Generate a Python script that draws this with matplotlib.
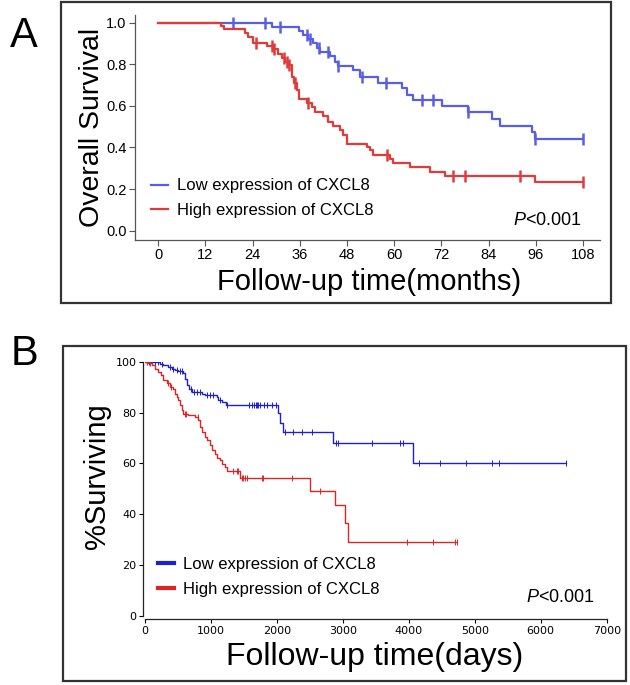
import numpy as np
import matplotlib
matplotlib.use("Agg")
import matplotlib.pyplot as plt
from matplotlib.lines import Line2D
from matplotlib.patches import Rectangle
from matplotlib.ticker import FormatStrFormatter

plt.rcParams['font.family'] = ['Liberation Sans', 'DejaVu Sans']
plt.rcParams['mathtext.fontset'] = 'custom'
plt.rcParams['mathtext.it'] = 'Liberation Sans:italic'
plt.rcParams['mathtext.rm'] = 'Liberation Sans'

# ---- panel A data (months, survival fraction) ----
low_a_t = [0, 28.8, 35.9, 36.9, 38.1, 39.4, 40.3, 41.1, 43.7, 44.9, 45.8, 49.6, 51.3,
           55.9, 61.9, 63.2, 64.8, 72.1, 78.8, 84.8, 86.9, 94.9, 95.8, 108]
low_a_s = [1.0, 0.981, 0.962, 0.941, 0.920, 0.901, 0.880, 0.861, 0.840, 0.813, 0.792, 0.773, 0.738,
           0.712, 0.685, 0.652, 0.628, 0.600, 0.572, 0.536, 0.503, 0.476, 0.44, 0.44]
low_a_cens = [18.9, 27.1, 30.9, 37.7, 38.6, 40.9, 43.1, 45.8, 51.7, 57.9, 67.0, 69.9, 78.8, 95.8, 108]

high_a_t = [0, 16.0, 16.8, 22.0, 22.9, 24.2, 27.6, 29.2, 30.5, 31.4, 32.2, 33.1, 33.9, 34.5,
            35.2, 35.9, 37.7, 39.0, 39.8, 42.0, 43.2, 44.5, 46.2, 47.0, 47.9, 53.0, 53.8, 54.7,
            58.9, 59.8, 64.0, 69.1, 72.9, 95.8, 108]
high_a_s = [1.0, 0.984, 0.968, 0.949, 0.933, 0.904, 0.888, 0.872, 0.850, 0.829, 0.813, 0.797, 0.740, 0.709,
            0.676, 0.632, 0.612, 0.593, 0.572, 0.551, 0.524, 0.503, 0.484, 0.460, 0.417, 0.404, 0.388, 0.364,
            0.345, 0.324, 0.305, 0.284, 0.263, 0.236, 0.236]
high_a_cens = [24.8, 28.8, 29.5, 32.0, 32.6, 33.2, 34.8, 38.1, 58.1, 75.0, 78.0, 92.0, 108]

# ---- panel B data (days, % surviving) ----
low_b_t = [0, 227, 278, 354, 404, 455, 505, 581, 607, 632, 672, 708, 860, 910, 1087, 1112,
           1163, 1228, 2022, 2047, 2088, 2846, 4068, 6384]
low_b_s = [100, 99.2, 98.6, 97.9, 97.2, 96.6, 96.2, 95.7, 93.3, 90.7, 89.1, 88.1, 87.4, 86.8, 86.1, 84.8,
           84.2, 82.9, 79.7, 76.0, 72.5, 67.9, 60.0, 60.0]
low_b_cens = [60, 110, 150, 200, 260, 380, 430, 480, 530, 560, 690, 740, 790, 840, 935, 985, 1036,
              1137, 1250, 1570, 1620, 1650, 1680, 1700, 1720, 1750, 1800, 1850, 1920, 1990, 2123,
              2240, 2385, 2528, 2896, 2931, 3437, 3867, 3917, 4160, 4473, 4867, 5257, 5372, 6384]

high_b_t = [0, 51, 101, 152, 202, 237, 278, 329, 379, 430, 455, 480, 505, 531, 556, 581, 657, 758,
            809, 834, 859, 910, 935, 986, 1011, 1061, 1087, 1137, 1163, 1213, 1238, 1440, 2502,
            2881, 3033, 3083, 4726]
high_b_s = [100, 99.3, 98.6, 97.3, 95.9, 94.6, 92.7, 91.7, 90.1, 89.1, 87.4, 86.1, 84.8, 82.9, 80.9,
            79.6, 79.2, 78.3, 77.0, 74.3, 72.4, 70.4, 69.1, 67.1, 65.2, 63.8, 62.1, 61.2, 59.9, 58.6,
            56.9, 54.3, 49.3, 43.6, 36.5, 29.0, 29.0]
high_b_cens = [30, 80, 350, 400, 600, 620, 800, 1340, 1390, 1415, 1465, 1490, 1516, 1542, 1769,
               1794, 2224, 2654, 3968, 4372, 4700, 4726]

labels = ['Low expression of CXCL8', 'High expression of CXCL8']


def km(ax, t, s, cens, color, lw, ms, mew):
    '''draws a step curve and its censor ticks'''
    t = np.array(t)
    s = np.array(s)
    ax.step(t, s, where='post', color=color, lw=lw)
    idx = np.searchsorted(t, cens, side='right') - 1
    ax.plot(cens, s[idx], ls='none', marker='|', color=color, ms=ms, mew=mew)


W, H = 630, 685
fig = plt.figure(figsize=(W / 100, H / 100), dpi=100)


def fx(px):
    return px / W


def fy(py):
    return 1 - py / H


# panel frames
for x0, y0, x1, y1 in [(61, 2, 611, 303), (63, 346, 626, 681)]:
    fig.patches.append(Rectangle((fx(x0), fy(y1)), fx(x1) - fx(x0), fy(y0) - fy(y1),
                                 transform=fig.transFigure, fill=False, lw=1.6, ec='#333333'))

# ---------------- panel A ----------------
blue_a, red_a = '#5a5ee6', '#e23a3a'
axA = fig.add_axes([fx(135), fy(240), fx(600) - fx(135), fy(15) - fy(240)])
km(axA, low_a_t, low_a_s, low_a_cens, blue_a, 1.6, 8, 1.8)
km(axA, high_a_t, high_a_s, high_a_cens, red_a, 1.6, 8, 1.8)
x0a = (135 - 158.3) / 3.933
x1a = (600 - 158.3) / 3.933
axA.set_xlim(x0a, x1a)
axA.set_ylim((230.7 - 240) / 208, (230.7 - 15) / 208)
axA.set_xticks(np.arange(0, 109, 12))
axA.set_yticks(np.arange(0, 1.01, 0.2))
axA.yaxis.set_major_formatter(FormatStrFormatter('%.1f'))
for sp in ['top', 'right']:
    axA.spines[sp].set_visible(False)
for sp in ['left', 'bottom']:
    axA.spines[sp].set_color('#555555')
    axA.spines[sp].set_linewidth(0.9)
axA.tick_params(labelsize=10.5, length=4, width=0.8, color='#555555', pad=2)

hA = [Line2D([], [], color=blue_a, lw=1.6), Line2D([], [], color=red_a, lw=1.6)]
fig.legend(hA, labels, loc='center left', bbox_to_anchor=(fx(151), fy(198)), frameon=False,
           fontsize=12, handlelength=1.0, handletextpad=0.55, labelspacing=0.55,
           borderpad=0, borderaxespad=0)
fig.text(fx(547), fy(220), r'$P$<0.001', fontsize=13, ha='center', va='center')
fig.text(fx(24), fy(36), 'A', fontsize=30, ha='center', va='center')
fig.text(fx(92), fy(127), 'Overall Survival', fontsize=20.5, rotation=90, ha='center', va='center')
fig.text(fx(369), fy(282), 'Follow-up time(months)', fontsize=21, ha='center', va='center')

# ---------------- panel B ----------------
blue_b, red_b = '#1f1fd6', '#e02424'
axB = fig.add_axes([fx(145), fy(616), fx(606.7) - fx(145), fy(361.7) - fy(616)])
km(axB, low_b_t, low_b_s, low_b_cens, blue_b, 1.0, 5, 0.7)
km(axB, high_b_t, high_b_s, high_b_cens, red_b, 1.0, 5, 0.7)
axB.set_xlim(0, 7000)
axB.set_ylim(0, 100)
axB.set_xticks(np.arange(0, 7001, 1000))
axB.set_yticks(np.arange(0, 101, 20))
for sp in ['top', 'right']:
    axB.spines[sp].set_visible(False)
axB.spines['left'].set_position(('outward', 1.5))
axB.spines['bottom'].set_position(('outward', 2.5))
for sp in ['left', 'bottom']:
    axB.spines[sp].set_linewidth(0.9)
    axB.spines[sp].set_color('#222222')
axB.tick_params(labelsize=8, length=3, width=0.8, pad=1.5)
for lab in axB.get_xticklabels() + axB.get_yticklabels():
    lab.set_family('DejaVu Sans')

hB = [Line2D([], [], color=blue_b, lw=3), Line2D([], [], color=red_b, lw=3)]
fig.legend(hB, labels, loc='center left', bbox_to_anchor=(fx(158), fy(577)), frameon=False,
           fontsize=12, handlelength=0.95, handletextpad=0.55, labelspacing=0.6,
           borderpad=0, borderaxespad=0)
fig.text(fx(560), fy(598), r'$P$<0.001', fontsize=13, ha='center', va='center')
fig.text(fx(25), fy(354), 'B', fontsize=30, ha='center', va='center')
fig.text(fx(97), fy(476), '%Surviving', fontsize=21, rotation=90, ha='center', va='center')
fig.text(fx(375), fy(657), 'Follow-up time(days)', fontsize=23, ha='center', va='center')

fig.savefig('out.png', dpi=100)
